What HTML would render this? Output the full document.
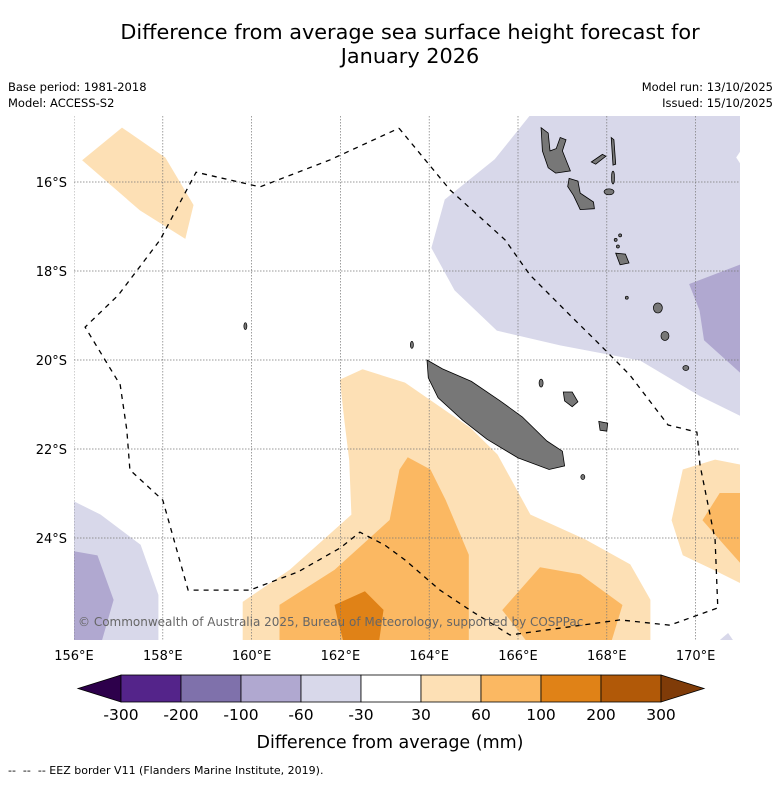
<!DOCTYPE html>
<html><head><meta charset="utf-8"><style>
body{margin:0;background:#fff;width:781px;height:781px;overflow:hidden;font-family:"Liberation Sans","DejaVu Sans",sans-serif}
svg text{font-family:"DejaVu Sans","Liberation Sans",sans-serif}
</style></head><body>
<svg id="c" width="781" height="781">
<text x="410" y="39" font-size="20.8" text-anchor="middle">Difference from average sea surface height forecast for</text>
<text x="410" y="63" font-size="20.8" text-anchor="middle">January 2026</text>
<text x="8" y="91" font-size="11.5">Base period: 1981-2018</text>
<text x="8" y="107" font-size="11.5">Model: ACCESS-S2</text>
<text x="773" y="91" font-size="11.5" text-anchor="end">Model run: 13/10/2025</text>
<text x="773" y="107" font-size="11.5" text-anchor="end">Issued: 15/10/2025</text>
<defs><clipPath id="mc"><rect x="74" y="116" width="666" height="524"/></clipPath></defs>
<g id="map" clip-path="url(#mc)"></g>
<g id="axes"></g>
<g id="cbar"></g>
<text x="390" y="748" font-size="17.5" text-anchor="middle">Difference from average (mm)</text>
<text x="8" y="774" font-size="11" xml:space="preserve">--  --  -- EEZ border V11 (Flanders Marine Institute, 2019).</text>
</svg>
<script>
const lonTicks=[156,158,160,162,164,166,168,170];
const latTicks=[16,18,20,22,24];
const cbLevels=["-300","-200","-100","-60","-30","30","60","100","200","300"];
const cbColors=["#54248a","#7f71ab","#b0a8d0","#d8d8ea","#ffffff","#fde0b5","#fbb862","#e08217","#b15908"];
const c1="#fde0b5",c2="#fbb862",c3="#e08217",p1="#d8d8ea",p2="#b0a8d0";
const contours=[
 {name:"neg-30-ne",fill:p1,pts:[[165.48,15.5],[166.27,14.52],[171,14.52],[171,15.3],[170.9,15.45],[171,15.6],[171,21.24],[170.1,20.8],[168.75,20.0],[166.95,19.66],[165.53,19.33],[164.58,18.43],[164.06,17.48],[164.36,16.4]]},
 {name:"neg-60-east",fill:p2,pts:[[169.87,18.3],[171,17.87],[171,20.27],[170.2,19.55],[170.1,18.88]]},
 {name:"neg-30-sw",fill:p1,pts:[[156,23.19],[156.59,23.48],[157.49,24.16],[157.89,25.28],[157.89,26.4],[156,26.4]]},
 {name:"neg-60-sw",fill:p2,pts:[[156,24.31],[156.52,24.4],[156.88,25.39],[156.59,26.4],[156,26.4]]},
 {name:"neg-30-se",fill:p1,pts:[[170.44,26.4],[170.73,26.15],[170.9,26.4]]},
 {name:"pos-30-nw",fill:c1,pts:[[156.2,15.51],[157.08,14.79],[158.05,15.46],[158.68,16.52],[158.5,17.26],[157.49,16.63]]},
 {name:"pos-30-central",fill:c1,pts:[[162,20.45],[162.5,20.22],[163.45,20.52],[164.92,21.53],[165.53,22.13],[166.27,23.48],[167.51,24.04],[168.52,24.6],[168.97,25.39],[168.97,26.4],[159.81,26.4],[159.81,25.44],[160.87,24.72],[162.26,23.48],[162.21,22.25],[162.1,21.35]]},
 {name:"pos-60-central",fill:c2,pts:[[163.34,22.47],[163.52,22.2],[164.02,22.47],[164.36,23.15],[164.88,24.38],[164.88,26.4],[160.64,26.4],[160.64,25.51],[161.88,24.72],[163.12,23.6]]},
 {name:"pos-60-south",fill:c2,pts:[[165.66,25.62],[166.5,24.67],[167.4,24.83],[168.34,25.51],[168.07,26.4],[166.27,26.4]]},
 {name:"pos-100-south",fill:c3,pts:[[161.88,25.51],[162.55,25.21],[162.96,25.62],[162.85,26.4],[162.1,26.4],[161.95,25.84]]},
 {name:"pos-30-east",fill:c1,pts:[[169.72,22.47],[170.44,22.25],[171,22.36],[171,25.0],[170.44,24.72],[169.72,24.38],[169.47,23.6]]},
 {name:"pos-60-east",fill:c2,pts:[[170.17,23.6],[170.55,23.0],[171,23.0],[171,24.54],[170.66,24.16]]}
];
const islands=[
 {name:"new-caledonia",pts:[[163.95,20.0],[164.3,20.2],[164.95,20.48],[165.6,20.92],[166.1,21.28],[166.65,21.82],[167.0,22.05],[167.05,22.38],[166.7,22.46],[166.0,22.2],[165.3,21.78],[164.75,21.35],[164.2,20.85],[163.98,20.4]]},
 {name:"espiritu-santo",pts:[[166.52,14.78],[166.68,14.9],[166.72,15.3],[166.86,15.25],[166.95,15.0],[167.08,15.05],[167.0,15.3],[167.1,15.55],[167.18,15.75],[166.85,15.8],[166.68,15.68],[166.55,15.3]]},
 {name:"malekula",pts:[[167.15,15.92],[167.35,15.98],[167.4,16.25],[167.7,16.45],[167.72,16.6],[167.4,16.62],[167.25,16.3],[167.12,16.1]]},
 {name:"lifou",pts:[[167.02,20.72],[167.22,20.72],[167.35,20.94],[167.22,21.05],[167.05,20.92]]},
 {name:"mare",pts:[[167.82,21.38],[168.02,21.42],[168.0,21.6],[167.85,21.58]]},
 {name:"pentecost",pts:[[168.1,15.0],[168.16,15.05],[168.2,15.6],[168.14,15.62]]},
 {name:"maewo-ambae",pts:[[167.65,15.55],[167.9,15.38],[167.98,15.42],[167.75,15.6]]},
 {name:"efate",pts:[[168.2,17.6],[168.42,17.62],[168.5,17.82],[168.3,17.86]]}
];
const smallIslands=[[168.14,15.9,2,12],[168.05,16.22,9,5],[168.2,17.3,2,2],[168.25,17.45,2,2],[169.15,18.83,8,9],[169.31,19.46,7,8],[169.78,20.18,5,4],[166.52,20.52,3,7],[167.46,22.63,3,4],[159.86,19.24,2,6],[163.61,19.66,2,6],[168.45,18.6,2,2],[168.3,17.2,2,2]];
const eez=[[163.32,14.79],[164.47,16.18],[165.71,17.3],[166.27,18.09],[167.17,18.99],[167.85,19.66],[168.52,20.34],[169.38,21.46],[170.03,21.62],[170.1,22.36],[170.44,24.04],[170.5,25.57],[169.42,25.96],[168.3,25.84],[165.82,26.18],[164.92,25.62],[164.24,25.17],[163.45,24.49],[163.0,24.16],[162.44,23.87],[162.0,24.22],[161.05,24.76],[159.96,25.17],[158.57,25.17],[158.0,23.15],[157.26,22.47],[157.19,21.57],[157.04,20.56],[156.25,19.26],[157.0,18.54],[157.94,17.3],[158.75,15.78],[160.19,16.11],[161.77,15.5],[163.32,14.79]];
const NS="http://www.w3.org/2000/svg";
const X=lon=>74+(lon-156)*44.4, Y=lat=>182+(lat-16)*44.5;
function mk(t,a,p){const e=document.createElementNS(NS,t);for(const k in a)e.setAttribute(k,a[k]);p.appendChild(e);return e;}
const map=document.getElementById('map'),axes=document.getElementById('axes'),cb=document.getElementById('cbar');
mk('rect',{x:74,y:116,width:666,height:524,fill:'#fff'},map);
const pstr=p=>p.map(q=>X(q[0]).toFixed(1)+','+Y(q[1]).toFixed(1)).join(' ');
contours.forEach(c=>{const e=mk('polygon',{points:pstr(c.pts),fill:c.fill,stroke:c.fill,'stroke-width':1},map);

});
lonTicks.forEach(l=>{const e=mk('line',{x1:X(l),x2:X(l),y1:116,y2:640,stroke:'#777','stroke-width':0.7,'stroke-dasharray':'1.5,1.5'},map);


const t=mk('text',{x:X(l),y:660,'font-size':13,'text-anchor':'middle'},axes);t.textContent=l+'°E';

});
latTicks.forEach(l=>{const e=mk('line',{x1:74,x2:740,y1:Y(l),y2:Y(l),stroke:'#777','stroke-width':0.7,'stroke-dasharray':'1.5,1.5'},map);


const t=mk('text',{x:67,y:Y(l)+5,'font-size':13,'text-anchor':'end'},axes);t.textContent=l+'°S';

});
islands.forEach(i=>{const e=mk('polygon',{points:pstr(i.pts),fill:'#777',stroke:'#000','stroke-width':0.8},map);

});
smallIslands.forEach(s=>{const e=mk('ellipse',{cx:X(s[0]),cy:Y(s[1]),rx:s[2]/2+0.5,ry:s[3]/2+0.5,fill:'#777',stroke:'#000','stroke-width':0.7},map);

});
const ez=mk('polyline',{points:pstr(eez),fill:'none',stroke:'#000','stroke-width':1.3,'stroke-dasharray':'5,5'},map);


const cp=mk('text',{x:78,y:626,'font-size':12,fill:'#666'},map);cp.textContent='© Commonwealth of Australia 2025, Bureau of Meteorology, supported by COSPPac';


const cx0=121,cw=60,cy=675,ch=27;
const lt=mk('polygon',{points:`78,${cy+ch/2} ${cx0},${cy} ${cx0},${cy+ch}`,fill:'#2d004b',stroke:'#000','stroke-width':0.8},cb);


cbColors.forEach((col,i)=>{const r=mk('rect',{x:cx0+i*cw,y:cy,width:cw,height:ch,fill:col,stroke:'#000','stroke-width':0.8},cb);

});
const xe=cx0+cbColors.length*cw;
const rt=mk('polygon',{points:`${xe},${cy} ${xe+43},${cy+ch/2} ${xe},${cy+ch}`,fill:'#7f3b08',stroke:'#000','stroke-width':0.8},cb);


cbLevels.forEach((v,i)=>{const t=mk('text',{x:cx0+i*cw,y:720,'font-size':15.5,'text-anchor':'middle'},cb);t.textContent=v;

});
</script>
</body></html>
